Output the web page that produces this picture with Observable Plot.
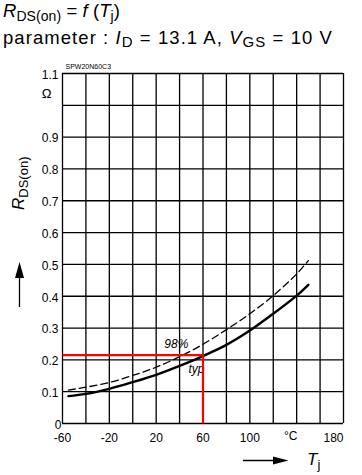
<!DOCTYPE html>
<html><head><meta charset="utf-8">
<script src="https://cdn.jsdelivr.net/npm/d3@7"></script>
<script src="https://cdn.jsdelivr.net/npm/@observablehq/plot@0.6"></script>
<style>
body{margin:0;background:#fff;}
#chart svg{display:block;}
</style>
</head><body><div id="chart"></div>
<script>
// ---- data ----
const tempC = [-55, -40, -20, 0, 20, 40, 60, 80, 100, 120, 140, 150];
const rTyp  = [0.086, 0.093, 0.109, 0.130, 0.153, 0.181, 0.212, 0.247, 0.292, 0.345, 0.402, 0.436];
const r98   = [0.105, 0.114, 0.129, 0.151, 0.177, 0.210, 0.249, 0.295, 0.345, 0.402, 0.470, 0.512];

const xGrid = [-60, -40, -20, 0, 20, 40, 60, 80, 100, 120, 140, 160, 180];
const yGrid = [0, 0.1, 0.2, 0.3, 0.4, 0.5, 0.6, 0.7, 0.8, 0.9, 1.0, 1.1];

const xLabelValues = [-60, -20, 20, 60, 100];
const xLabelTexts  = ["-60", "-20", "20", "60", "100"];
const xUnitValue = 140, xUnitText = "°C";
const xLastValue = 180, xLastText = "180";

const yLabelValues = [0.1, 0.2, 0.3, 0.4, 0.5, 0.6, 0.7, 0.8, 0.9, 1.1];
const yLabelTexts  = ["0.1", "0.2", "0.3", "0.4", "0.5", "0.6", "0.7", "0.8", "0.9", "1.1"];
const yZeroText = "0";
const yUnitText = "Ω";
const partNumber = "SPW20N60C3";

const markerT = [-60, 60, 60];
const markerR = [0.215, 0.215, 0];

const label98 = {t: 27, r: 0.236, text: "98%"};
const labelTyp = {t: 47.6, r: 0.160, text: "typ"};

// ---- build tables ----
const rowsTyp = tempC.map((t, i) => ({t, r: rTyp[i]}));
const rows98 = tempC.map((t, i) => ({t, r: r98[i]}));
const redRows = markerT.map((t, i) => ({t, r: markerR[i]}));

const FONT = '"Liberation Sans", Arial, Helvetica, sans-serif';

const svg = Plot.plot({
  width: 362, height: 475,
  marginLeft: 62, marginRight: 19, marginTop: 73, marginBottom: 52,
  x: {domain: [-60, 180], axis: null},
  y: {domain: [0, 1.1], axis: null},
  style: {fontFamily: FONT, fontSize: "12px", color: "#000", background: "#fff"},
  marks: [
    Plot.ruleX(xGrid, {x: d => d, stroke: "#000", strokeWidth: 1.3}),
    Plot.ruleY(yGrid, {y: d => d, stroke: "#000", strokeWidth: 1.3}),
    Plot.line(rows98, {x: "t", y: "r", curve: "catmull-rom", stroke: "#000", strokeWidth: 1.3, strokeDasharray: "7,4"}),
    Plot.line(rowsTyp, {x: "t", y: "r", curve: "catmull-rom", stroke: "#000", strokeWidth: 2.4}),
    Plot.text([label98], {x: "t", y: "r", text: "text", textAnchor: "start", lineAnchor: "bottom", fontStyle: "italic", fontSize: 12}),
    Plot.text([labelTyp], {x: "t", y: "r", text: "text", textAnchor: "start", lineAnchor: "bottom", fontStyle: "italic", fontSize: 12}),
    Plot.line(redRows, {x: "t", y: "r", stroke: "#ff0000", strokeWidth: 2.2, strokeLinejoin: "miter", strokeLinecap: "butt"}),
    Plot.text(xLabelValues, {x: d => d, y: () => 0, text: (d, i) => xLabelTexts[i], lineAnchor: "top", dy: 9.5}),
    Plot.text([xUnitValue], {x: d => d, y: () => 0, text: () => xUnitText, lineAnchor: "top", dy: 8, dx: -6}),
    Plot.text([xLastValue], {x: d => d, y: () => 0, text: () => xLastText, lineAnchor: "top", dy: 9.5, textAnchor: "end"}),
    Plot.text(yLabelValues, {x: () => -60, y: d => d, text: (d, i) => yLabelTexts[i], textAnchor: "end", dx: -4, dy: 1.5}),
    Plot.text([0], {x: () => -60, y: d => d, text: () => yZeroText, textAnchor: "end", dx: -1, dy: 2}),
    Plot.text([1.1], {x: () => -60, y: d => d, text: () => yUnitText, dx: -16, dy: 20, fontSize: 13}),
    Plot.text([1.1], {x: () => -60, y: d => d, text: () => partNumber, textAnchor: "start", lineAnchor: "bottom", dx: 3, dy: -5, fontSize: 7})
  ]
});
document.getElementById("chart").appendChild(svg);

const s = d3.select(svg);

function addRich(parent, x, y, size, parts, target) {
  const t = parent.append("text").attr("x", x).attr("y", y)
    .attr("text-anchor", "start")
    .attr("font-size", size).attr("font-family", FONT).attr("fill", "#000");
  let n = 0;
  let shift = 0;
  for (const p of parts) {
    const ts = t.append("tspan").text(p.text);
    if (p.italic) ts.attr("font-style", "italic");
    const want = p.sub ? p.sub : 0;
    if (want !== shift) { ts.attr("dy", want - shift); shift = want; }
    if (p.size) ts.attr("font-size", p.size);
    n += p.text.length;
  }
  if (target) {
    const len = t.node().getComputedTextLength();
    t.attr("letter-spacing", (target - len) / n);
  }
  return t;
}

// title lines
addRich(s, 3, 17, 18.5, [
  {text: "R", italic: true},
  {text: "DS(on)", sub: 3.5, size: 14},
  {text: " = "},
  {text: "f", italic: true},
  {text: " ("},
  {text: "T", italic: true},
  {text: "j", sub: 3.5, size: 14},
  {text: ")"}
], 117);
addRich(s, 3, 44, 18.5, [
  {text: "parameter : "},
  {text: "I", italic: true},
  {text: "D", sub: 2.5, size: 15},
  {text: " = 13.1 A, "},
  {text: "V", italic: true},
  {text: "GS", sub: 2.5, size: 15},
  {text: " = 10 V"}
], 330);

// y axis title (rotated)
const g = s.append("g").attr("transform", "translate(24,210) rotate(-90)");
addRich(g, 0, 0, 17, [
  {text: "R", italic: true},
  {text: "DS(on)", sub: 4, size: 13}
]);

// up arrow
s.append("line").attr("x1", 19.5).attr("x2", 19.5).attr("y1", 307).attr("y2", 276)
  .attr("stroke", "#000").attr("stroke-width", 1.3);
s.append("polygon").attr("points", "19.5,262 15,278 24,278").attr("fill", "#000");

// right arrow
s.append("line").attr("x1", 243).attr("x2", 276).attr("y1", 460.5).attr("y2", 460.5)
  .attr("stroke", "#000").attr("stroke-width", 1.3);
s.append("polygon").attr("points", "288.5,460.5 273,456.5 273,464.5").attr("fill", "#000");

// T_j label
addRich(s, 307, 465, 17, [
  {text: "T", italic: true},
  {text: "j", sub: 4, size: 13}
]);
</script>
</body></html>
